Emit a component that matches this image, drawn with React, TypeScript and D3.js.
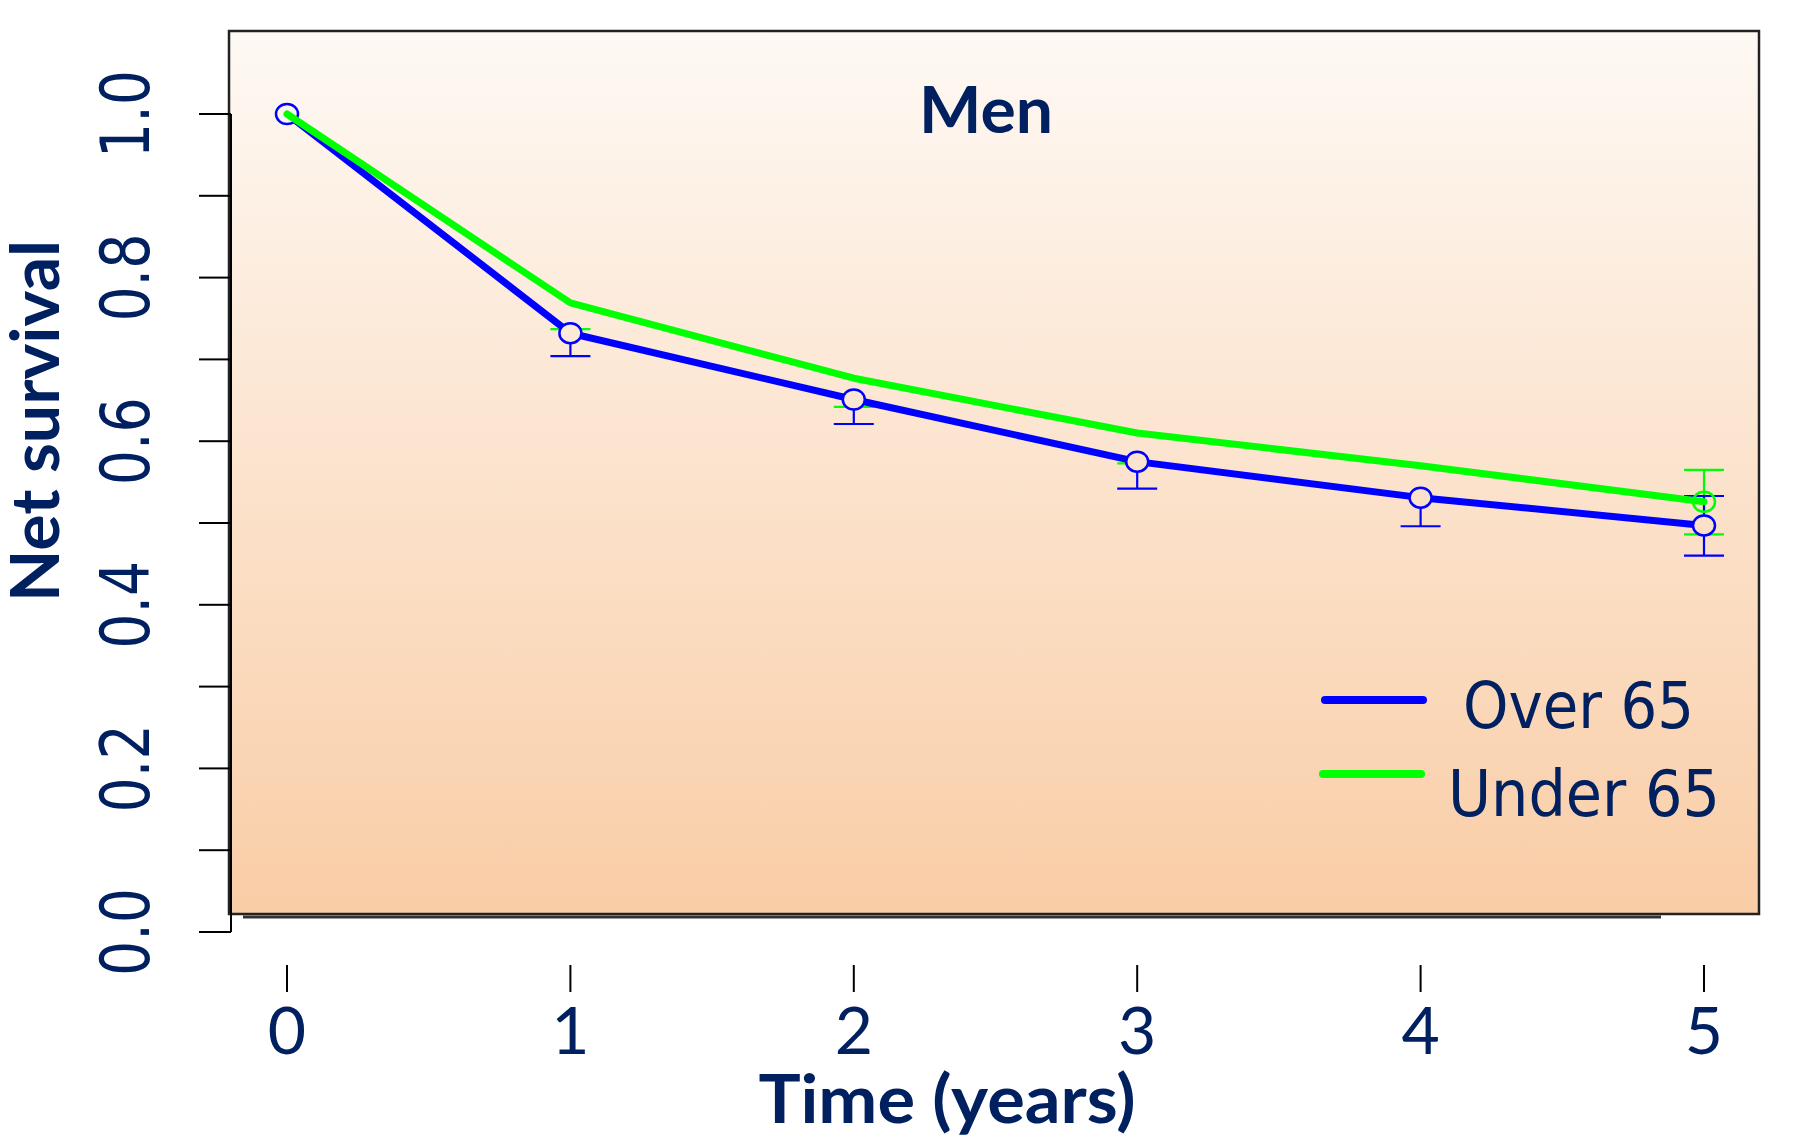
import React from "react";
import * as d3 from "d3";

// survival estimates
const years = [0, 1, 2, 3, 4, 5];
const over65 = [1.0, 0.732, 0.651, 0.575, 0.531, 0.497];
const over65Lower = [null, 0.704, 0.621, 0.542, 0.496, 0.46];
const over65Upper = [null, null, null, null, null, 0.533];
const under65 = [1.0, 0.769, 0.677, 0.61, 0.57, 0.526];
const under65Lower = [null, 0.737, 0.642, 0.573, null, 0.486];
const under65Upper = [null, null, null, null, null, 0.565];
const yTicks = [0, 0.1, 0.2, 0.3, 0.4, 0.5, 0.6, 0.7, 0.8, 0.9, 1.0];
const yLabels = [0, 0.2, 0.4, 0.6, 0.8, 1.0];
const legendLabels = ["Over 65", "Under 65"];

const W = 1793;
const H = 1135;
const navy = "#002060";
const blue = "#0000ff";
const green = "#00ff00";

const x = d3.scaleLinear().domain([0, 5]).range([287, 1704]);
const y = d3.scaleLinear().domain([0, 1]).range([932, 114]);

const line = d3
  .line<number>()
  .x((d, i) => x(years[i]))
  .y(d => y(d));

const ErrorBars = ({ lower, upper, values, color, stemFromPoint }) => (
  <g stroke={color} strokeWidth={2.2} fill="none">
    {years.map((t, i) => {
      const lo = lower[i];
      const hi = upper[i];
      const cx = x(t);
      const parts = [];
      if (lo != null && hi != null) {
        parts.push(<line key="s" x1={cx} x2={cx} y1={y(lo)} y2={y(hi)} />);
      } else if (lo != null && stemFromPoint) {
        parts.push(<line key="s" x1={cx} x2={cx} y1={y(lo)} y2={y(values[i])} />);
      }
      if (lo != null) parts.push(<line key="l" x1={cx - 20} x2={cx + 20} y1={y(lo)} y2={y(lo)} />);
      if (hi != null) parts.push(<line key="u" x1={cx - 20} x2={cx + 20} y1={y(hi)} y2={y(hi)} />);
      return <g key={t}>{parts}</g>;
    })}
  </g>
);

export default function App() {
  return (
    <svg width={W} height={H} style={{ position: "absolute", left: 0, top: 0, background: "#fff" }}>
      <defs>
        <linearGradient id="bg" gradientUnits="userSpaceOnUse" x1={0} y1={31} x2={0} y2={914}>
          <stop offset="0" stopColor="#fef9f4" />
          <stop offset="1" stopColor="#f9cda6" />
        </linearGradient>
      </defs>

      {/* plot background */}
      <rect x={229} y={31} width={1530} height={883} fill="url(#bg)" stroke="#222" strokeWidth={2.5} />
      <line x1={243} x2={1661} y1={917} y2={917} stroke="#333" strokeWidth={3} />

      {/* y axis */}
      <g stroke="#000" strokeWidth={2}>
        <line x1={231} x2={231} y1={y(0)} y2={y(1)} />
        {yTicks.map(v => (
          <line key={v} x1={199} x2={231} y1={y(v)} y2={y(v)} />
        ))}
      </g>
      {yLabels.map(v => (
        <text
          key={v}
          transform={`translate(149,${y(v)}) rotate(-90)`}
          textAnchor="middle"
          fontFamily="DejaVu Sans"
          fontSize={68}
          textLength={88}
          lengthAdjust="spacingAndGlyphs"
          fill={navy}
        >
          {v.toFixed(1)}
        </text>
      ))}
      <text
        transform="translate(59,421) rotate(-90)"
        textAnchor="middle"
        fontFamily="Lato"
        fontWeight="bold"
        fontSize={66}
        textLength={362}
        lengthAdjust="spacingAndGlyphs"
        fill={navy}
      >
        Net survival
      </text>

      {/* x axis */}
      {years.map(t => (
        <g key={t}>
          <line x1={x(t)} x2={x(t)} y1={965} y2={992} stroke="#000" strokeWidth={2} />
          <text x={x(t)} y={1054} textAnchor="middle" fontFamily="Lato" fontSize={66} fill={navy}>
            {t}
          </text>
        </g>
      ))}
      <text
        x={947}
        y={1123}
        textAnchor="middle"
        fontFamily="Lato"
        fontWeight="bold"
        fontSize={67}
        textLength={377}
        lengthAdjust="spacingAndGlyphs"
        fill={navy}
      >
        Time (years)
      </text>

      {/* title */}
      <text
        x={986}
        y={133}
        textAnchor="middle"
        fontFamily="Lato"
        fontWeight="bold"
        fontSize={65}
        textLength={134}
        lengthAdjust="spacingAndGlyphs"
        fill={navy}
      >
        Men
      </text>

      {/* series */}
      <ErrorBars lower={under65Lower} upper={under65Upper} values={under65} color={green} stemFromPoint={false} />
      <path d={line(over65)} fill="none" stroke={blue} strokeWidth={7} strokeLinejoin="round" />
      <ErrorBars lower={over65Lower} upper={over65Upper} values={over65} color={blue} stemFromPoint={true} />
      {years.map((t, i) => (
        <ellipse key={t} cx={x(t)} cy={y(over65[i])} rx={11} ry={10} fill="url(#bg)" stroke={blue} strokeWidth={2.5} />
      ))}
      <path d={line(under65)} fill="none" stroke={green} strokeWidth={7} strokeLinejoin="round" strokeLinecap="round" />
      <ellipse cx={x(5)} cy={y(under65[5])} rx={11} ry={10} fill="none" stroke={green} strokeWidth={2.5} />

      {/* legend */}
      <line x1={1325} x2={1423} y1={700} y2={700} stroke={blue} strokeWidth={8} strokeLinecap="round" />
      <line x1={1323} x2={1421} y1={774} y2={774} stroke={green} strokeWidth={8} strokeLinecap="round" />
      <text x={1463} y={728} fontFamily="DejaVu Sans" fontSize={64} textLength={231} lengthAdjust="spacingAndGlyphs" fill={navy}>
        {legendLabels[0]}
      </text>
      <text x={1448} y={816} fontFamily="DejaVu Sans" fontSize={64} textLength={272} lengthAdjust="spacingAndGlyphs" fill={navy}>
        {legendLabels[1]}
      </text>
    </svg>
  );
}
